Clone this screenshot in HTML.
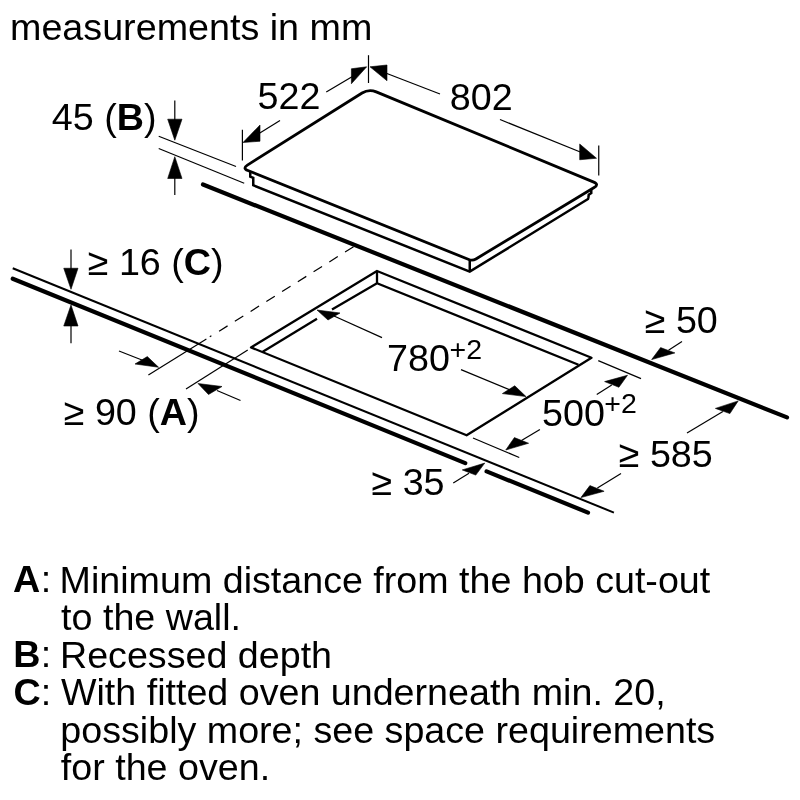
<!DOCTYPE html>
<html><head><meta charset="utf-8"><style>
html,body{margin:0;padding:0;background:#fff;}
svg{display:block;will-change:transform;}
text{font-family:"Liberation Sans",sans-serif;fill:#000;}
</style></head><body>
<svg width="800" height="800" viewBox="0 0 800 800">
<rect width="800" height="800" fill="#fff"/>
<g stroke="#000" fill="none">
<line x1="203" y1="184.5" x2="787" y2="417.4" stroke-width="4.2" stroke-linecap="round"/>
<line x1="12.75" y1="268.25" x2="613.9" y2="512.6" stroke-width="2.0" stroke-linecap="butt"/>
<line x1="12.75" y1="278.75" x2="465.25" y2="463.1" stroke-width="4.2" stroke-linecap="round"/>
<line x1="486.6" y1="471.4" x2="588" y2="512.6" stroke-width="4.2" stroke-linecap="round"/>
<path d="M376.24,91.87 L593.76,182.10 Q599.30,184.40 594.16,187.50 L475.92,258.93 Q472.50,261.00 468.79,259.51 L247.87,170.54 Q242.30,168.30 247.38,165.11 L362.08,93.06 Q368.85,88.80 376.24,91.87 Z" fill="none" stroke-width="2.8" stroke-linecap="butt" stroke-linejoin="round"/>
<path d="M250.25,171.5 L250.25,176.6 L253.25,177.75 L253.25,185.25 L469.75,271.65 L588,199 L588.4,197.5 L588.75,194.7 L591.25,193 L591.25,189.5" fill="none" stroke-width="2.5" stroke-linecap="butt" stroke-linejoin="miter"/>
<line x1="469.75" y1="259.65" x2="469.75" y2="271.65" stroke-width="2.5" stroke-linecap="butt"/>
<path d="M251,347.4 L377,271 L591.5,357.8 L466.6,435.3 Z" fill="none" stroke-width="2.3" stroke-linecap="butt" stroke-linejoin="round"/>
<path d="M262.75,351.75 L317,318.8" fill="none" stroke-width="2.3" stroke-linecap="butt" stroke-linejoin="round"/>
<path d="M332,309.6 L377,283.3 L578.5,364.8" fill="none" stroke-width="2.3" stroke-linecap="butt" stroke-linejoin="miter"/>
<line x1="377" y1="271" x2="377" y2="283" stroke-width="2.3" stroke-linecap="butt"/>
<line x1="174.8" y1="100.5" x2="174.8" y2="125" stroke-width="1.2" stroke-linecap="butt"/>
<line x1="174.8" y1="172" x2="174.8" y2="195" stroke-width="1.2" stroke-linecap="butt"/>
<line x1="158.7" y1="136.2" x2="236" y2="166.5" stroke-width="1.2" stroke-linecap="butt"/>
<line x1="158.7" y1="148.5" x2="244.2" y2="183.3" stroke-width="1.2" stroke-linecap="butt"/>
<line x1="71" y1="249.5" x2="71" y2="275" stroke-width="1.2" stroke-linecap="butt"/>
<line x1="71" y1="320" x2="71" y2="343.25" stroke-width="1.2" stroke-linecap="butt"/>
<line x1="242.4" y1="129.7" x2="242.4" y2="160.5" stroke-width="1.2" stroke-linecap="butt"/>
<line x1="368.5" y1="55.2" x2="368.5" y2="83" stroke-width="1.2" stroke-linecap="butt"/>
<line x1="598.75" y1="145.5" x2="598.75" y2="175.5" stroke-width="1.2" stroke-linecap="butt"/>
<line x1="255" y1="136" x2="280" y2="120.5" stroke-width="1.2" stroke-linecap="butt"/>
<line x1="326.25" y1="92" x2="355" y2="75" stroke-width="1.2" stroke-linecap="butt"/>
<line x1="383" y1="72" x2="440" y2="94" stroke-width="1.2" stroke-linecap="butt"/>
<line x1="500" y1="119.5" x2="584" y2="153.5" stroke-width="1.2" stroke-linecap="butt"/>
<line x1="334" y1="316" x2="382" y2="337.6" stroke-width="1.2" stroke-linecap="butt"/>
<line x1="461" y1="369.6" x2="510" y2="390" stroke-width="1.2" stroke-linecap="butt"/>
<line x1="148.4" y1="375.1" x2="206.4" y2="339.1" stroke-width="1.2" stroke-linecap="butt"/>
<line x1="209.8" y1="336.8" x2="211.4" y2="335.8" stroke-width="1.2" stroke-linecap="butt"/>
<path d="M219.1,331.2 L354.6,246" fill="none" stroke-width="1.2" stroke-linecap="butt" stroke-linejoin="round" stroke-dasharray="10 8.6"/>
<line x1="186" y1="389" x2="247.75" y2="349.9" stroke-width="1.2" stroke-linecap="butt"/>
<line x1="119" y1="351" x2="147" y2="362" stroke-width="1.2" stroke-linecap="butt"/>
<line x1="217" y1="390.5" x2="240.5" y2="400.5" stroke-width="1.2" stroke-linecap="butt"/>
<line x1="598.25" y1="360.6" x2="641" y2="378.6" stroke-width="1.2" stroke-linecap="butt"/>
<line x1="473" y1="438" x2="519.25" y2="457.5" stroke-width="1.2" stroke-linecap="butt"/>
<line x1="611.75" y1="385" x2="596.75" y2="394.4" stroke-width="1.2" stroke-linecap="butt"/>
<line x1="521.5" y1="440.6" x2="539.9" y2="429.4" stroke-width="1.2" stroke-linecap="butt"/>
<line x1="668.5" y1="350.25" x2="682" y2="341.6" stroke-width="1.2" stroke-linecap="butt"/>
<line x1="722.9" y1="411.4" x2="687" y2="432.9" stroke-width="1.2" stroke-linecap="butt"/>
<line x1="597.4" y1="487.9" x2="621" y2="473.6" stroke-width="1.2" stroke-linecap="butt"/>
<line x1="469" y1="473.25" x2="453.25" y2="483" stroke-width="1.2" stroke-linecap="butt"/>
<polygon points="174.8,140.2 167.7,119.2 182,119.2" fill="#000" stroke="#000" stroke-width="0.6" stroke-linejoin="miter"/>
<polygon points="174.8,156.7 167.7,178.5 182,178.5" fill="#000" stroke="#000" stroke-width="0.6" stroke-linejoin="miter"/>
<polygon points="71,289.25 63.75,268.25 78,268.25" fill="#000" stroke="#000" stroke-width="0.6" stroke-linejoin="miter"/>
<polygon points="71,305 63.75,326 78,326" fill="#000" stroke="#000" stroke-width="0.6" stroke-linejoin="miter"/>
<polygon points="243,142.5 260,125 260,141.25" fill="#000" stroke="#000" stroke-width="0.6" stroke-linejoin="miter"/>
<polygon points="366.7,66.8 351.4,68.75 351.4,83.75" fill="#000" stroke="#000" stroke-width="0.6" stroke-linejoin="miter"/>
<polygon points="370,66.8 387,65 387,80.75" fill="#000" stroke="#000" stroke-width="0.6" stroke-linejoin="miter"/>
<polygon points="596.5,158.25 579.7,144 579.7,159.75" fill="#000" stroke="#000" stroke-width="0.6" stroke-linejoin="miter"/>
<polygon points="317,310 328,320 340,313" fill="#000" stroke="#000" stroke-width="0.6" stroke-linejoin="miter"/>
<polygon points="526,396.6 502.4,393.6 514.75,385.75" fill="#000" stroke="#000" stroke-width="0.6" stroke-linejoin="miter"/>
<polygon points="158.6,367.25 135,364 147.3,356.6" fill="#000" stroke="#000" stroke-width="0.6" stroke-linejoin="miter"/>
<polygon points="198,383.5 222,386.5 208.5,394.5" fill="#000" stroke="#000" stroke-width="0.6" stroke-linejoin="miter"/>
<polygon points="627.5,375.25 604.6,381.6 618.9,387.25" fill="#000" stroke="#000" stroke-width="0.6" stroke-linejoin="miter"/>
<polygon points="505.75,450 514.4,437.6 528.6,443.25" fill="#000" stroke="#000" stroke-width="0.6" stroke-linejoin="miter"/>
<polygon points="651.6,359.6 660.6,347.6 674.9,352.9" fill="#000" stroke="#000" stroke-width="0.6" stroke-linejoin="miter"/>
<polygon points="738.2,400.9 715.4,408.4 729.9,413.6" fill="#000" stroke="#000" stroke-width="0.6" stroke-linejoin="miter"/>
<polygon points="580.9,497.6 589.9,485.6 604.1,491.25" fill="#000" stroke="#000" stroke-width="0.6" stroke-linejoin="miter"/>
<polygon points="484.75,463.1 462.25,469.9 475.75,475.1" fill="#000" stroke="#000" stroke-width="0.6" stroke-linejoin="miter"/>
</g>
<g>
<text x="10.00" y="40" font-size="37.7">measurements in mm</text>
<text x="51.75" y="130" font-size="37.7">45 (<tspan font-weight="bold">B</tspan>)</text>
<text x="257.50" y="109" font-size="37.7">522</text>
<text x="449.75" y="109.5" font-size="37.7">802</text>
<text x="87.75" y="275" font-size="37.7">≥ 16 (<tspan font-weight="bold">C</tspan>)</text>
<text x="644.75" y="332.5" font-size="37.7">≥ 50</text>
<text x="387.00" y="371" font-size="37.7">780</text>
<text x="449.50" y="358.5" font-size="28.5">+2</text>
<text x="63.75" y="425" font-size="37.7">≥ 90 (<tspan font-weight="bold">A</tspan>)</text>
<text x="542.00" y="425.75" font-size="37.7">500</text>
<text x="604.25" y="412.5" font-size="28.5">+2</text>
<text x="618.75" y="467.25" font-size="37.7">≥ 585</text>
<text x="371.50" y="495" font-size="37.7">≥ 35</text>
<text x="13.00" y="592.25" font-size="37.7" font-weight="bold">A</text>
<text x="40.70" y="592.25" font-size="37.7">:</text>
<text x="59.60" y="592.6" font-size="37.65">Minimum distance from the hob cut-out</text>
<text x="61.10" y="630.1" font-size="37.65">to the wall.</text>
<text x="13.30" y="667.25" font-size="37.7" font-weight="bold">B</text>
<text x="40.70" y="667.25" font-size="37.7">:</text>
<text x="60.00" y="667.5" font-size="37.65">Recessed depth</text>
<text x="13.50" y="704.75" font-size="37.7" font-weight="bold">C</text>
<text x="40.70" y="704.75" font-size="37.7">:</text>
<text x="60.95" y="705.1" font-size="37.65">With fitted oven underneath min. 20,</text>
<text x="60.35" y="742.75" font-size="37.65">possibly more; see space requirements</text>
<text x="60.85" y="780.2" font-size="37.65">for the oven.</text>
</g>
</svg>
</body></html>
